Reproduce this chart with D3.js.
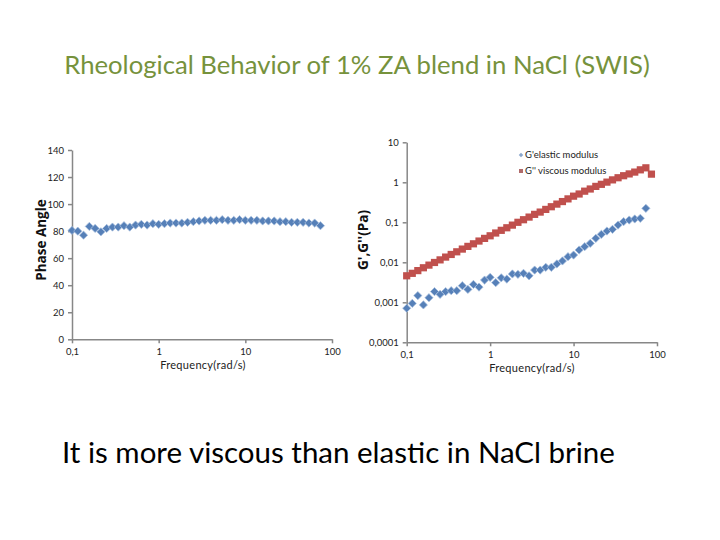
<!DOCTYPE html>
<html>
<head>
<meta charset="utf-8">
<script src="https://cdn.jsdelivr.net/npm/d3@7"></script>
<style>
  body { margin: 0; background: #fff; }
  svg { display: block; }
  .axis path, .axis line { stroke: #878787; stroke-width: 1.5; }
  .axis text { font-family: Lato, 'Open Sans', sans-serif; font-size: 9.5px; fill: #222; }
  .ax-title { font-family: Lato, 'Open Sans', sans-serif; font-size: 11px; fill: #222; letter-spacing: 0.3px; }
  .y-title { font-family: 'Open Sans', Lato, sans-serif; font-size: 13.5px; font-weight: bold; fill: #111; }
  .legend text { font-family: Lato, 'Open Sans', sans-serif; font-size: 9.5px; fill: #222; }
</style>
</head>
<body>
<script>
// frequency (rad/s), 15 points per decade
const freq = [
  0.1, 0.1166, 0.1359, 0.1585, 0.1848, 0.2154, 0.2512, 0.2929, 0.3415, 0.3981,
  0.4642, 0.5412, 0.631, 0.7356, 0.8577, 1.0, 1.166, 1.359, 1.585, 1.848,
  2.154, 2.512, 2.929, 3.415, 3.981, 4.642, 5.412, 6.31, 7.356, 8.577,
  10, 11.66, 13.59, 15.85, 18.48, 21.54, 25.12, 29.29, 34.15, 39.81,
  46.42, 54.12, 63.1, 73.56, 85.77
];

// phase angle (deg)
const phase = [
  80.5, 80, 77, 83.5, 82, 79.5, 82, 83, 83, 84,
  83, 84.5, 85, 84.5, 85.5, 85, 85.5, 86, 86, 86,
  86.5, 87, 87.5, 88, 88, 88, 88.5, 88, 88, 88.5,
  88, 88, 88, 87.5, 87.5, 87.5, 87, 87, 86.5, 86.5,
  86.5, 86, 86, 84
];

// G' elastic modulus (Pa)
const gElastic = [
  0.00071, 0.00094, 0.00147, 0.00086, 0.0013, 0.00185, 0.00158, 0.00185, 0.00195, 0.00195,
  0.0026, 0.0021, 0.0028, 0.0024, 0.0036, 0.0042, 0.0031, 0.0041, 0.0038, 0.0051,
  0.0050, 0.0053, 0.0046, 0.0064, 0.0064, 0.0075, 0.0075, 0.0091, 0.0108, 0.0138,
  0.0152, 0.0203, 0.0246, 0.0298, 0.0397, 0.050, 0.0605, 0.0667, 0.0855, 0.104,
  0.114, 0.121, 0.126, 0.223
];

// G'' viscous modulus (Pa)
const gViscous = [
  0.0046, 0.0053, 0.0062, 0.0073, 0.0085, 0.0099, 0.0115, 0.0135, 0.0157, 0.0183,
  0.0214, 0.025, 0.029, 0.034, 0.0396, 0.046, 0.054, 0.063, 0.073, 0.085,
  0.10, 0.116, 0.135, 0.158, 0.18, 0.21, 0.245, 0.285, 0.33, 0.385,
  0.45, 0.51, 0.60, 0.68, 0.79, 0.89, 1.01, 1.15, 1.30, 1.46,
  1.62, 1.8, 2.05, 2.3, 1.6
];

const phaseTicks = [0, 20, 40, 60, 80, 100, 120, 140];
const modTicks = [0.0001, 0.001, 0.01, 0.1, 1, 10];
const freqTicks = [0.1, 1, 10, 100];
const comma = d => String(d).replace('.', ',');

const blue = '#5680b8', red = '#c0504d';

const svg = d3.select('body').append('svg')
  .attr('width', 720).attr('height', 540);

svg.append('text')
  .attr('x', 357).attr('y', 74)
  .attr('text-anchor', 'middle')
  .style('font-family', "Lato, 'Open Sans', sans-serif")
  .style('font-size', '25.7px')
  .style('fill', '#76923c')
  .text('Rheological Behavior of 1% ZA blend in NaCl (SWIS)');

svg.append('text')
  .attr('x', 62).attr('y', 463)
  .style('font-family', "Lato, 'Open Sans', sans-serif")
  .style('font-size', '29.5px')
  .style('fill', '#000')
  .text('It is more viscous than elastic in NaCl brine');

// Excel-style diamond: a square turned 45 degrees
const diamond = d3.symbol().type(d3.symbolSquare).size(34);
const place = (x, y) => 'translate(' + x + ',' + y + ') rotate(45)';

// ---------- left chart: phase angle ----------
const x1 = d3.scaleLog().domain([0.1, 100]).range([72, 332]);
const y1 = d3.scaleLinear().domain([0, 140]).range([339.3, 150]);

svg.append('g').attr('class', 'axis')
  .attr('transform', 'translate(0,' + y1(0) + ')')
  .call(d3.axisBottom(x1).tickValues(freqTicks).tickFormat(comma).tickSize(4).tickSizeOuter(0).tickPadding(5));

svg.append('g').attr('class', 'axis')
  .attr('transform', 'translate(' + x1(0.1) + ',0)')
  .call(d3.axisLeft(y1).tickValues(phaseTicks).tickSize(4).tickSizeOuter(0).tickPadding(4));

svg.append('g')
  .selectAll('path')
  .data(phase)
  .enter()
  .append('path')
  .attr('d', diamond)
  .attr('transform', (d, i) => place(x1(freq[i]), y1(d)))
  .style('fill', blue)
  .style('stroke', '#a9c0de')
  .style('stroke-width', 0.7);

svg.append('text').attr('class', 'ax-title')
  .attr('x', 203).attr('y', 369).attr('text-anchor', 'middle')
  .text('Frequency(rad/s)');

svg.append('text').attr('class', 'y-title')
  .attr('text-anchor', 'middle')
  .attr('transform', 'translate(46,240) rotate(-90)')
  .text('Phase Angle');

// ---------- right chart: moduli ----------
const x2 = d3.scaleLog().domain([0.1, 100]).range([406.7, 657]);
const y2 = d3.scaleLog().domain([0.0001, 10]).range([342.3, 142.3]);

svg.append('g').attr('class', 'axis')
  .attr('transform', 'translate(0,' + y2(0.0001) + ')')
  .call(d3.axisBottom(x2).tickValues(freqTicks).tickFormat(comma).tickSize(4).tickSizeOuter(0).tickPadding(5));

svg.append('g').attr('class', 'axis')
  .attr('transform', 'translate(' + x2(0.1) + ',0)')
  .call(d3.axisLeft(y2).tickValues(modTicks).tickFormat(comma).tickSize(4).tickSizeOuter(0).tickPadding(4));

svg.append('g')
  .selectAll('rect')
  .data(gViscous)
  .enter()
  .append('rect')
  .attr('x', (d, i) => x2(freq[i]) - 3.6)
  .attr('y', d => y2(d) - 3.6)
  .attr('width', 7.2).attr('height', 7.2)
  .style('fill', red);

svg.append('g')
  .selectAll('path')
  .data(gElastic)
  .enter()
  .append('path')
  .attr('d', diamond)
  .attr('transform', (d, i) => place(x2(freq[i]), y2(d)))
  .style('fill', blue)
  .style('stroke', '#a9c0de')
  .style('stroke-width', 0.7);

svg.append('text').attr('class', 'ax-title')
  .attr('x', 532).attr('y', 372).attr('text-anchor', 'middle')
  .text('Frequency(rad/s)');

svg.append('text').attr('class', 'y-title')
  .attr('text-anchor', 'middle')
  .attr('transform', 'translate(368,240) rotate(-90)')
  .text("G',G''(Pa)");

// legend
const legend = svg.append('g').attr('class', 'legend');
legend.append('path')
  .attr('d', d3.symbol().type(d3.symbolSquare).size(10))
  .attr('transform', place(521, 155))
  .style('fill', '#8aa6cc');
legend.append('text').attr('x', 525).attr('y', 158).text("G'elastic modulus");
legend.append('rect')
  .attr('x', 519).attr('y', 169).attr('width', 4).attr('height', 4)
  .style('fill', '#b06b6b');
legend.append('text').attr('x', 525).attr('y', 174).text("G'' viscous modulus");
</script>
</body>
</html>
